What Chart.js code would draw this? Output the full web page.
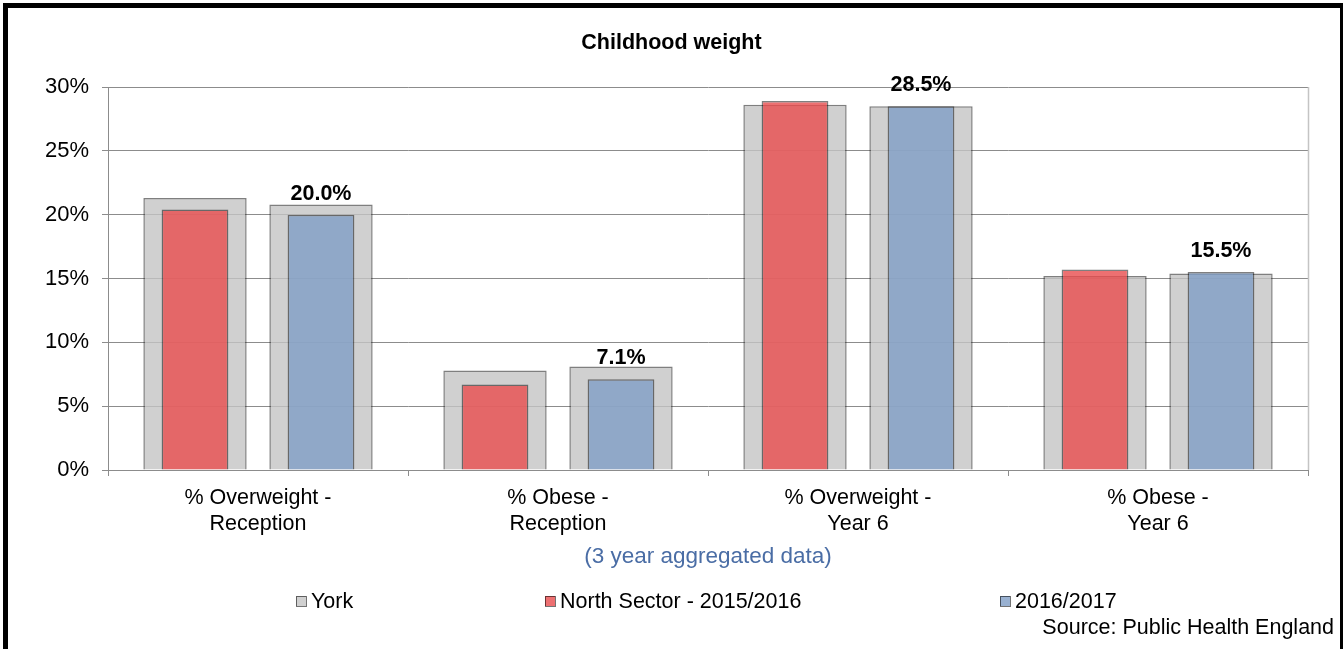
<!DOCTYPE html>
<html><head><meta charset="utf-8">
<script src="https://cdn.jsdelivr.net/npm/chart.js@4.4.1/dist/chart.umd.min.js"></script>
<style>html,body{margin:0;padding:0;background:#fff;overflow:hidden}#wrap{width:1343px;height:649px;position:relative}</style>
</head><body><div id="wrap"><canvas id="c" width="1343" height="649"></canvas></div>
<script>
const chartTitle = 'Childhood weight';
const categories = [['% Overweight -','Reception'],['% Obese -','Reception'],['% Overweight -','Year 6'],['% Obese -','Year 6']];
const yorkFirst = [21.3, 7.8, 28.6, 15.2];
const yorkSecond = [20.8, 8.1, 28.5, 15.4];
const north1516 = [20.4, 6.7, 28.9, 15.7];
const north1617 = [20.0, 7.1, 28.5, 15.5];
const legendLabels = ['York', 'North Sector - 2015/2016', '2016/2017'];
const axisCaption = '(3 year aggregated data)';
const sourceText = 'Source: Public Health England';
const yMax = 30, yStep = 5;

const FONT = '"Liberation Sans", Arial, sans-serif';
const GRID = '#8c8c8c';
const yorkFill = 'rgba(196,196,196,0.8)';
const redFill = 'rgba(233,76,77,0.8)';
const blueFill = 'rgba(127,158,198,0.8)';
const barBorder = 'rgba(0,0,0,0.5)';

const extras = {
  id: 'extras',
  beforeDraw(chart) {
    const c = chart.ctx; c.save(); c.fillStyle = '#fff'; c.fillRect(0,0,chart.width,chart.height); c.restore();
  },
  beforeDatasetsDraw(chart) {
    const c = chart.ctx, a = chart.chartArea;
    c.save(); c.strokeStyle = '#c4c4c4'; c.lineWidth = 1.5;
    c.beginPath(); c.moveTo(Math.round(a.right)+0.5, a.top); c.lineTo(Math.round(a.right)+0.5, a.bottom); c.stroke();
    c.restore();
  },
  afterDraw(chart) {
    const c = chart.ctx, a = chart.chartArea;
    c.save();
    c.fillStyle = '#000'; c.font = 'bold 21.5px ' + FONT; c.textAlign = 'center'; c.textBaseline = 'middle';
    c.fillText(chartTitle, chart.width / 2, 43);
    const meta = chart.getDatasetMeta(3);
    meta.data.forEach((bar, i) => {
      c.fillText(north1617[i].toFixed(1) + '%', bar.x, bar.y - 21);
    });
    c.font = '22.5px ' + FONT; c.fillStyle = '#4a6da5';
    c.fillText(axisCaption, (a.left + a.right) / 2, 557);
    const fills = [yorkFill, redFill, blueFill];
    const boxX = [296, 545, 1000];
    c.font = '21.5px ' + FONT;
    c.textAlign = 'left';
    legendLabels.forEach((t, i) => {
      c.fillStyle = '#fff'; c.fillRect(boxX[i], 596, 10, 10);
      c.fillStyle = fills[i]; c.fillRect(boxX[i], 596, 10, 10);
      c.strokeStyle = 'rgba(0,0,0,0.55)'; c.lineWidth = 1; c.strokeRect(boxX[i]+0.5, 596.5, 10, 10);
      c.fillStyle = '#000'; c.fillText(t, boxX[i] + 15, 602);
    });
    c.textAlign = 'right'; c.fillText(sourceText, 1334, 628);
    c.strokeStyle = '#000'; c.lineWidth = 5; c.strokeRect(5.5, 5.5, 1337, 700);
    c.restore();
  }
};

const common = { borderColor: barBorder, borderWidth: 1.5, categoryPercentage: 0.84 };
new Chart(document.getElementById('c'), {
  type: 'bar',
  data: {
    labels: categories,
    datasets: [
      { ...common, label: 'York', data: yorkFirst, stack: 'a', backgroundColor: yorkFill, order: 2, barPercentage: 0.82 },
      { ...common, label: 'York', data: yorkSecond, stack: 'b', backgroundColor: yorkFill, order: 2, barPercentage: 0.82 },
      { ...common, label: 'North Sector - 2015/2016', data: north1516, stack: 'a', backgroundColor: redFill, order: 1, barPercentage: 0.53 },
      { ...common, label: '2016/2017', data: north1617, stack: 'b', backgroundColor: blueFill, order: 1, barPercentage: 0.53 }
    ]
  },
  options: {
    responsive: false, animation: false, devicePixelRatio: 1,
    layout: { padding: { left: 8, top: 87, right: 35, bottom: 79 } },
    plugins: { legend: { display: false }, title: { display: false }, tooltip: { enabled: false } },
    scales: {
      x: {
        stacked: true, offset: true,
        grid: { display: true, drawOnChartArea: false, drawTicks: true, tickLength: 6, color: GRID, offset: true },
        border: { display: true, color: GRID, width: 1 },
        ticks: { color: '#000', font: { family: FONT, size: 21.5, lineHeight: 1.2 }, padding: 9, maxRotation: 0, autoSkip: false },
        afterFit(s) { s.height = 100; }
      },
      y: {
        stacked: false, min: 0, max: yMax,
        grid: { color: GRID, drawTicks: true, tickLength: 6 },
        border: { display: true, color: GRID, width: 1 },
        ticks: { stepSize: yStep, color: '#000', padding: 13, font: { family: FONT, size: 22 }, callback: v => v + '%' },
        afterFit(s) { s.width = 100; }
      }
    }
  },
  plugins: [extras]
});
</script></body></html>
